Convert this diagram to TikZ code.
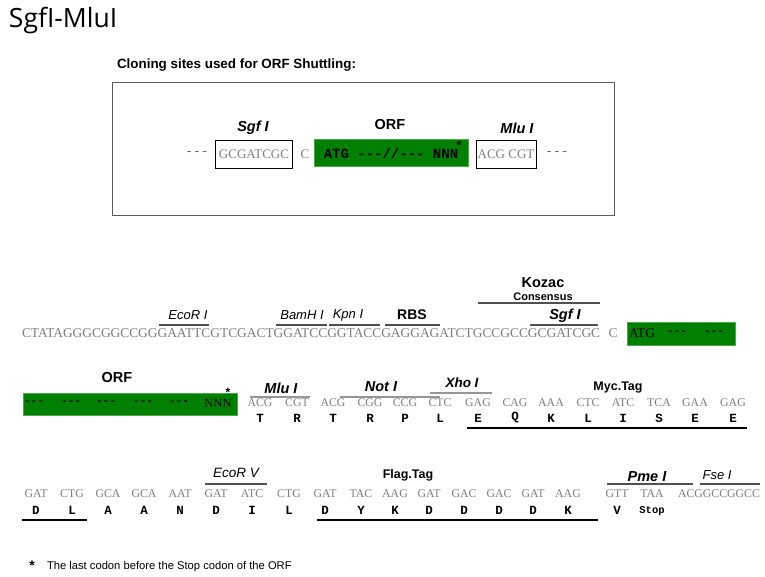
\documentclass[tikz,border=0pt]{standalone}
\usepackage{fontspec}
\setmainfont{Liberation Serif}
\newfontfamily\arialf{Liberation Sans}
\newfontfamily\courf{Liberation Mono}
\newfontfamily\opensf{Open Sans}
\definecolor{seqgray}{RGB}{125,125,125}
\definecolor{orfgreen}{RGB}{0,128,0}
\definecolor{boxgray}{RGB}{90,90,90}
\definecolor{linegray}{RGB}{80,80,80}
\definecolor{lightline}{RGB}{150,150,150}
\tikzset{
  every node/.style={inner sep=0pt, outer sep=0pt},
  seqtxt/.style={font=\fontsize{11.8}{13}\selectfont, text=seqgray},
  seqbig/.style={font=\fontsize{13.4}{15}\selectfont, text=seqgray},
  monogray/.style={font=\courf\fontsize{13}{15}\selectfont, text=black!60},
  aatxt/.style={font=\courf\bfseries\fontsize{12.5}{14}\selectfont},
  enzbi/.style={font=\arialf\bfseries\itshape\fontsize{14.5}{16}\selectfont},
  enzi/.style={font=\arialf\itshape\fontsize{13}{15}\selectfont},
  labb/.style={font=\arialf\bfseries\fontsize{12.5}{15}\selectfont},
  starb/.style={font=\arialf\bfseries\fontsize{12}{14}\selectfont},
  orftxt/.style={font=\courf\bfseries\fontsize{11}{13}\selectfont, text=black},
  overl/.style={draw=linegray, line width=1.1pt},
  overlg/.style={draw=lightline, line width=1.5pt},
  underl/.style={draw=black, line width=1.2pt},
  sitebox/.style={draw=black, line width=0.8pt, fill=white},
  orfbox/.style={fill=orfgreen, draw=orfgreen!70!white, line width=0.5pt},
}
\begin{document}
\begin{tikzpicture}[x=1pt,y=-1pt]
\useasboundingbox (0,0) rectangle (765,576);
% title
\node[anchor=west, font=\opensf\fontsize{26.5}{30}\selectfont] (title) at (9,21) {SgfI-MluI};
\node[anchor=west, font=\arialf\bfseries\fontsize{13.4}{15}\selectfont] (hdr) at (117,65) {Cloning sites used for ORF Shuttling:};
% frame
\node[draw=boxgray, line width=1.2pt, minimum width=502pt, minimum height=133pt, anchor=north west] (frame) at (112.5,82.5) {};
% top row
\node[monogray] (tdl) at (197,154) {-{}-{}-};
\node[sitebox, seqtxt, font=\fontsize{13}{15}\selectfont, minimum width=77pt, minimum height=28pt] (tsgf) at (254,154) {GCGATCGC};
\node[seqtxt, font=\fontsize{13}{15}\selectfont] (tc) at (305,154) {C};
\node[orfbox, minimum width=154pt, minimum height=27pt, font=\courf\bfseries\fontsize{14}{16}\selectfont] (torf) at (391,153) {ATG -{}-{}-//-{}-{}- NNN};
\node[sitebox, seqtxt, font=\fontsize{13}{15}\selectfont, minimum width=60pt, minimum height=28pt] (tmlu) at (506,154) {ACG CGT};
\node[monogray] (tdr) at (557,154) {-{}-{}-};
\node[enzbi] (lsgf) at (253,128) {Sgf I};
\node[labb, font=\arialf\bfseries\fontsize{14.5}{16}\selectfont] (lorf) at (390,125) {ORF};
\node[enzbi] (lmlu) at (517,128) {Mlu I};
\node[starb] (tstar) at (459,145) {*};
% line 1
\node[anchor=west, seqbig] (seq1) at (22,333) {CTATAGGGCGGCCGGGAATTCGTCGACTGGATCCGGTACCGAGGAGATCTGCCGCCGCGATCGC};
\node[seqbig] (c1) at (613,333) {C};
\node[orfbox, minimum width=108pt, minimum height=23pt] (g1) at (681,333.5) {};
\node[anchor=west, font=\fontsize{13.4}{15}\selectfont, text=black] (atg1) at (629,333) {ATG};
\node[orftxt] (g1d1) at (677,333) {-{}-{}-};
\node[orftxt] (g1d2) at (714,333) {-{}-{}-};
\node[labb, font=\arialf\bfseries\fontsize{14.5}{16}\selectfont] (kozac) at (543,283) {Kozac};
\node[labb, font=\arialf\bfseries\fontsize{11}{13}\selectfont] (cons) at (543,297) {Consensus};
\node[enzi] (lecori) at (188,315) {EcoR I};
\node[enzi] (lbam) at (302,315) {BamH I};
\node[enzi] (lkpn) at (348,315) {Kpn I};
\node[labb, font=\arialf\bfseries\fontsize{14}{16}\selectfont] (lrbs) at (412,315) {RBS};
\node[enzbi] (lsgf1) at (565,316) {Sgf I};
\coordinate (k1) at (478,303); \coordinate (k2) at (600,303);
\coordinate (e1) at (159,325); \coordinate (e2) at (209,325);
\coordinate (b1) at (276,325); \coordinate (b2) at (327,325);
\coordinate (p1) at (329,325); \coordinate (p2) at (380,325);
\coordinate (r1) at (385,325); \coordinate (r2) at (440,325);
\coordinate (s1) at (530,325); \coordinate (s2) at (598,325);
\draw[overl] (k1) -- (k2);
\draw[overl] (e1) -- (e2);
\draw[overl] (b1) -- (b2);
\draw[overl] (p1) -- (p2);
\draw[overl] (r1) -- (r2);
\draw[overl] (s1) -- (s2);
% line 2
\node[labb, font=\arialf\bfseries\fontsize{14.5}{16}\selectfont] (lorf2) at (117,378) {ORF};
\node[orfbox, minimum width=214pt, minimum height=22pt] (g2) at (130,404) {};
\foreach \x [count=\i] in {34,71,106,143,179}
  \node[orftxt] (g2d\i) at (\x,403) {-{}-{}-};
\node[font=\fontsize{12.5}{14}\selectfont, text=black] (nnn2) at (218,403) {NNN};
\node[starb] (star2) at (228,392) {*};
\node[enzbi] (lmlu2) at (281,388) {Mlu I};
\node[enzbi] (lnot) at (381,387) {Not I};
\node[enzi, font=\arialf\bfseries\itshape\fontsize{13.5}{15}\selectfont] (lxho) at (462,383) {Xho I};
\node[labb] (lmyc) at (618,388) {Myc.Tag};
\coordinate (m1) at (250,397); \coordinate (m2) at (310,397);
\coordinate (n1) at (340,397); \coordinate (n2) at (440,397);
\coordinate (x1) at (430,393); \coordinate (x2) at (492,393);
\draw[overlg] (m1) -- (m2);
\draw[overlg] (n1) -- (n2);
\draw[overlg] (x1) -- (x2);
\foreach \x/\cod/\aa [count=\i] in {260/ACG/T,297/CGT/R,333/ACG/T,370/CGG/R,405/CCG/P,440/CTC/L,478/GAG/E,515/CAG/Q,551/AAA/K,588/CTC/L,623/ATC/I,659/TCA/S,695/GAA/E,733/GAG/E}{
  \node[seqtxt] (cb\i) at (\x,403) {\cod};
  \node[aatxt] (ab\i) at (\x,418) {\aa};
}
\coordinate (myc1) at (467,428); \coordinate (myc2) at (747,428);
\draw[underl] (myc1) -- (myc2);
% line 3
\node[enzi, font=\arialf\itshape\fontsize{13.5}{15}\selectfont] (lecorv) at (236,473) {EcoR V};
\node[labb] (lflag) at (408,475) {Flag.Tag};
\node[enzbi] (lpme) at (647,477) {Pme I};
\node[enzi] (lfse) at (717,475) {Fse I};
\coordinate (v1) at (205,484); \coordinate (v2) at (267,484);
\coordinate (pm1) at (607,484); \coordinate (pm2) at (693,484);
\coordinate (f1) at (700,484); \coordinate (f2) at (760,484);
\draw[overl] (v1) -- (v2);
\draw[overl] (pm1) -- (pm2);
\draw[overl] (f1) -- (f2);
\foreach \x/\cod/\aa [count=\i] in {36/GAT/D,72/CTG/L,108/GCA/A,144/GCA/A,180/AAT/N,216/GAT/D,252/ATC/I,289/CTG/L,325/GAT/D,361/TAC/Y,395/AAG/K,429/GAT/D,464/GAC/D,499/GAC/D,533/GAT/D,568/AAG/K,617/GTT/V}{
  \node[seqtxt] (cc\i) at (\x,494) {\cod};
  \node[aatxt] (ac\i) at (\x,510) {\aa};
}
\node[seqtxt] (cc18) at (652,494) {TAA};
\node[font=\courf\bfseries\fontsize{10.5}{12}\selectfont] (stop) at (652,511) {Stop};
\node[seqtxt, anchor=west] (cc19) at (678,494) {ACGGCCGGCC};
\coordinate (u1) at (22,520); \coordinate (u2) at (87,520);
\coordinate (u3) at (317,520); \coordinate (u4) at (598,520);
\draw[underl] (u1) -- (u2);
\draw[underl] (u3) -- (u4);
% footnote
\node[starb, font=\arialf\bfseries\fontsize{14}{16}\selectfont] (fstar) at (32,566) {*};
\node[anchor=west, font=\arialf\fontsize{11.2}{13}\selectfont] (fnote) at (47,567) {The last codon before the Stop codon of the ORF};
\end{tikzpicture}
\end{document}
